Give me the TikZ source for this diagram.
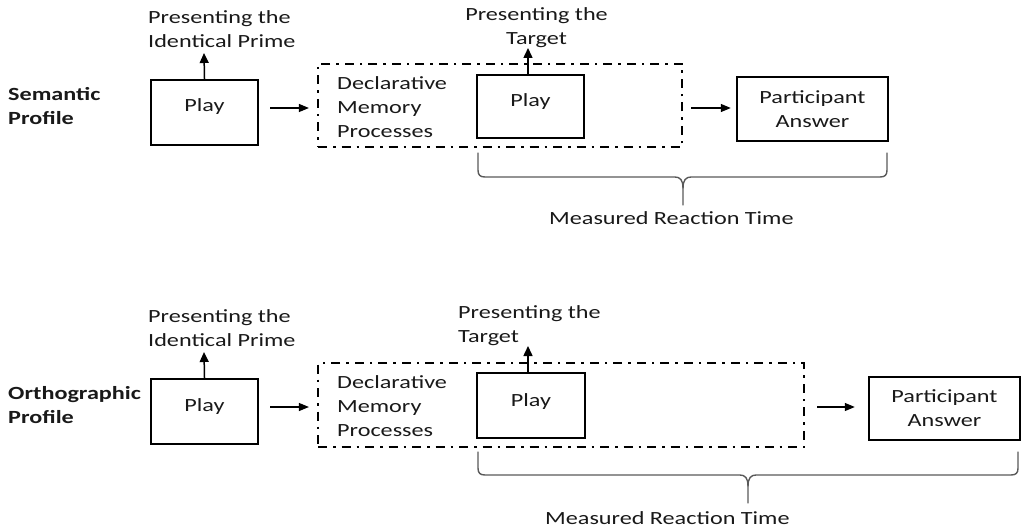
\documentclass[tikz,border=0pt]{standalone}
\usepackage{fontspec}
\setmainfont{Carlito}[FakeStretch=1.3]
\usetikzlibrary{arrows.meta,calc}

\tikzset{
  txt/.style={font=\fontsize{18.6}{24}\selectfont, inner sep=0pt, text=black!90},
  boldtxt/.style={txt, font=\fontsize{18.6}{24}\selectfont\bfseries},
  boxnode/.style={draw, line width=2.4pt, inner sep=0pt, fill=white,
    font=\fontsize{18.6}{24}\selectfont, text=black!90},
  memframe/.style={draw, line width=2.2pt, inner sep=0pt,
    dash pattern=on 9pt off 6pt on 2.5pt off 6pt},
  flow/.style={line width=1.2pt, -{Triangle[length=10pt,width=8pt]}},
  rise/.style={line width=1.5pt, -{Triangle[length=10pt,width=9pt]}},
  brace/.style={line width=1.4pt, draw=black!65, line join=round, line cap=round},
}

\begin{document}
\begin{tikzpicture}[x=1pt, y=-1pt]
\useasboundingbox (0,0) rectangle (1024,529);

% ---------------- Semantic profile ----------------
\node[boldtxt, anchor=north west, align=left] (sem) at (8,83.2) {\strut Semantic\\Profile};

\node[boxnode, minimum width=107pt, text height=32pt, text depth=33pt] (p1) at (204.5,112.5) {Play};
\node[txt, anchor=north west, align=left] (prime1) at (148,6.2) {\strut Presenting the\\Identical Prime};
\coordinate (u1) at (204,53);
\draw[rise] (p1.north) -- (u1);

\node[memframe, minimum width=364pt, minimum height=83pt] (dm1) at (500,105.5) {};
\node[txt, anchor=north west, align=left] (dmt1) at (337,72.2) {\strut Declarative\\Memory\\Processes};
\node[boxnode, minimum width=107pt, text height=32pt, text depth=31pt] (p2) at (530.5,106.5) {Play};
\node[txt, anchor=north, align=center] (tg1) at (536.5,3.2) {\strut Presenting the\\Target};
\coordinate (u2) at (528,48);
\draw[rise] ([xshift=-2.5pt]p2.north) -- (u2);

\node[boxnode, minimum width=151pt, minimum height=64pt, align=center] (pa1) at (812.5,109) {Participant\\Answer};

\draw[flow, shorten <=11pt, shorten >=8pt] ([yshift=4.5pt]p1.east) -- ([yshift=4.5pt]p1.east -| dm1.west);
\draw[flow, shorten <=8pt, shorten >=5pt] ([yshift=1pt]pa1.west -| dm1.east) -- ([yshift=1pt]pa1.west);

% reaction-time brace
\draw[brace] (478,153) -- (478,170) .. controls (478,175) and (480,177) .. (485,177)
  -- (675,177) .. controls (680,177) and (683,180) .. (683,188) -- (683,205);
\draw[brace] (887,153) -- (887,170) .. controls (887,175) and (885,177) .. (880,177)
  -- (691,177) .. controls (686,177) and (683,180) .. (683,188);
\node[txt, anchor=base west] (rt1) at (549,225) {Measured Reaction Time};

% ---------------- Orthographic profile ----------------
\node[boldtxt, anchor=north west, align=left] (ort) at (8,382.2) {\strut Orthographic\\Profile};

\node[boxnode, minimum width=107pt, text height=32pt, text depth=33pt] (p3) at (204.5,411.5) {Play};
\node[txt, anchor=north west, align=left] (prime2) at (148,305.2) {\strut Presenting the\\Identical Prime};
\coordinate (u3) at (204,352);
\draw[rise] (p3.north) -- (u3);

\node[memframe, minimum width=486pt, minimum height=84pt] (dm2) at (561,405) {};
\node[txt, anchor=north west, align=left] (dmt2) at (337,371.2) {\strut Declarative\\Memory\\Processes};
\node[boxnode, minimum width=108pt, text height=33pt, text depth=32pt] (p4) at (531,405.5) {Play};
\node[txt, anchor=north west, align=left] (tg2) at (458,301.2) {\strut Presenting the\\Target};
\coordinate (u4) at (528,346);
\draw[rise] ([xshift=-3pt]p4.north) -- (u4);

\node[boxnode, minimum width=151pt, minimum height=63pt, align=center] (pa2) at (944.5,408.5) {Participant\\Answer};

\draw[flow, shorten <=11pt, shorten >=8pt] ([yshift=4.5pt]p3.east) -- ([yshift=4.5pt]p3.east -| dm2.west);
\draw[flow, shorten <=12pt, shorten >=13pt] ([yshift=1.5pt]pa2.west -| dm2.east) -- ([yshift=1.5pt]pa2.west);

% reaction-time brace
\draw[brace] (478,452) -- (478,468) .. controls (478,473) and (480,475) .. (485,475)
  -- (740,475) .. controls (745,475) and (748,478) .. (748,486) -- (748,503);
\draw[brace] (1018,452) -- (1018,468) .. controls (1018,473) and (1016,475) .. (1011,475)
  -- (756,475) .. controls (751,475) and (748,478) .. (748,486);
\node[txt, anchor=base west] (rt2) at (545,524) {Measured Reaction Time};
\end{tikzpicture}
\end{document}
